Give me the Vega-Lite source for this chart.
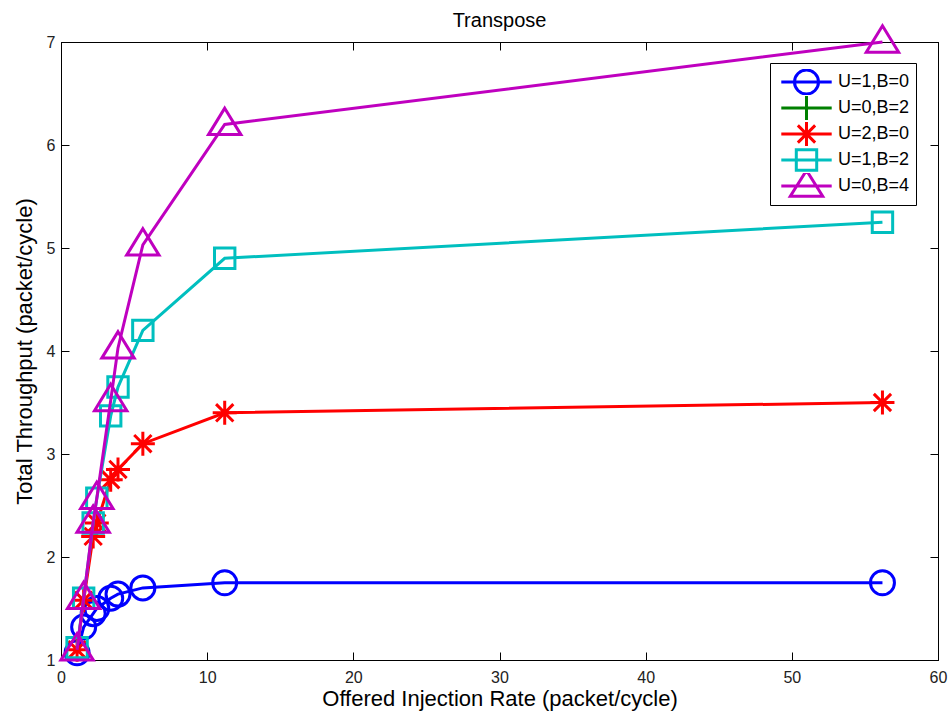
{
  "$schema": "https://vega.github.io/schema/vega-lite/v6.json",
  "width": 877,
  "height": 618,
  "autosize": {"type": "none"},
  "padding": {"left": 61, "top": 42, "right": 14, "bottom": 54},
  "background": "white",
  "title": {"text": "Transpose", "fontSize": 20, "font": "Liberation Sans", "fontWeight": "normal", "color": "black", "offset": -11},
  "data": {"values": [
    {"series": "U=1,B=0", "x": 1.1, "y": 1.07},
    {"series": "U=1,B=0", "x": 1.55, "y": 1.32},
    {"series": "U=1,B=0", "x": 2.2, "y": 1.45},
    {"series": "U=1,B=0", "x": 2.45, "y": 1.5},
    {"series": "U=1,B=0", "x": 3.4, "y": 1.6},
    {"series": "U=1,B=0", "x": 3.9, "y": 1.64},
    {"series": "U=1,B=0", "x": 5.6, "y": 1.7},
    {"series": "U=1,B=0", "x": 11.2, "y": 1.75},
    {"series": "U=1,B=0", "x": 56.2, "y": 1.75},
    {"series": "U=2,B=0", "x": 1.1, "y": 1.1},
    {"series": "U=2,B=0", "x": 1.55, "y": 1.58},
    {"series": "U=2,B=0", "x": 2.2, "y": 2.2},
    {"series": "U=2,B=0", "x": 2.45, "y": 2.33},
    {"series": "U=2,B=0", "x": 3.4, "y": 2.75},
    {"series": "U=2,B=0", "x": 3.9, "y": 2.85},
    {"series": "U=2,B=0", "x": 5.6, "y": 3.1},
    {"series": "U=2,B=0", "x": 11.2, "y": 3.4},
    {"series": "U=2,B=0", "x": 56.2, "y": 3.5},
    {"series": "U=1,B=2", "x": 1.1, "y": 1.12},
    {"series": "U=1,B=2", "x": 1.55, "y": 1.6},
    {"series": "U=1,B=2", "x": 2.2, "y": 2.33},
    {"series": "U=1,B=2", "x": 2.45, "y": 2.57},
    {"series": "U=1,B=2", "x": 3.4, "y": 3.37},
    {"series": "U=1,B=2", "x": 3.9, "y": 3.65},
    {"series": "U=1,B=2", "x": 5.6, "y": 4.2},
    {"series": "U=1,B=2", "x": 11.2, "y": 4.9},
    {"series": "U=1,B=2", "x": 56.2, "y": 5.25},
    {"series": "U=0,B=4", "x": 1.1, "y": 1.1},
    {"series": "U=0,B=4", "x": 1.55, "y": 1.6},
    {"series": "U=0,B=4", "x": 2.2, "y": 2.34},
    {"series": "U=0,B=4", "x": 2.45, "y": 2.57},
    {"series": "U=0,B=4", "x": 3.4, "y": 3.52},
    {"series": "U=0,B=4", "x": 3.9, "y": 4.03},
    {"series": "U=0,B=4", "x": 5.6, "y": 5.03},
    {"series": "U=0,B=4", "x": 11.2, "y": 6.2},
    {"series": "U=0,B=4", "x": 56.2, "y": 7.0}
  ]},
  "encoding": {
    "x": {"field": "x", "type": "quantitative", "scale": {"domain": [0, 60], "nice": false, "zero": false},
          "axis": {"orient": "bottom", "values": [0, 10, 20, 30, 40, 50, 60], "title": "Offered Injection Rate (packet/cycle)", "titlePadding": 3, "labelPadding": 17, "labelFlush": false, "labelFontSize": 16, "labelFont": "Liberation Sans", "labelColor": "#222222"}},
    "y": {"field": "y", "type": "quantitative", "scale": {"domain": [1, 7], "nice": false, "zero": false},
          "axis": {"orient": "left", "values": [1, 2, 3, 4, 5, 6, 7], "title": "Total Throughput (packet/cycle)", "titlePadding": 10, "labelPadding": 14, "labelFontSize": 16, "labelFont": "Liberation Sans", "labelColor": "#222222"}}
  },
  "layer": [
    {
      "resolve": {"scale": {"color": "independent", "shape": "independent"}},
      "layer": [
        {"transform": [{"filter": {"field": "series", "equal": "U=1,B=0"}}], "mark": {"type": "line", "strokeWidth": 3},
         "encoding": {"color": {"field": "series", "type": "nominal", "legend": null, "scale": {"domain": ["U=1,B=0", "U=0,B=2", "U=2,B=0", "U=1,B=2", "U=0,B=4"], "range": ["#0000ff", "#008000", "#ff0000", "#00bfbf", "#bf00bf"]}}}},
        {"transform": [{"filter": {"field": "series", "equal": "U=1,B=0"}}], "mark": {"type": "point", "filled": false, "strokeWidth": 3, "size": 576, "opacity": 1},
         "encoding": {"color": {"field": "series", "type": "nominal", "legend": null, "scale": {"domain": ["U=1,B=0", "U=0,B=2", "U=2,B=0", "U=1,B=2", "U=0,B=4"], "range": ["#0000ff", "#008000", "#ff0000", "#00bfbf", "#bf00bf"]}},
                      "shape": {"field": "series", "type": "nominal", "legend": null, "scale": {"domain": ["U=1,B=0", "U=0,B=2", "U=2,B=0", "U=1,B=2", "U=0,B=4"], "range": ["circle", "M-0.8,0L0.8,0M0,-0.8L0,0.8", "M-1,0L1,0M0,-1L0,1M-0.72,-0.72L0.72,0.72M-0.72,0.72L0.72,-0.72", "M-0.85,-0.85H0.85V0.85H-0.85Z", "M0,-1.35L1.35,0.85L-1.35,0.85Z"]}}}},
        {"transform": [{"filter": {"field": "series", "equal": "U=2,B=0"}}], "mark": {"type": "line", "strokeWidth": 3},
         "encoding": {"color": {"field": "series", "type": "nominal", "legend": null, "scale": {"domain": ["U=1,B=0", "U=0,B=2", "U=2,B=0", "U=1,B=2", "U=0,B=4"], "range": ["#0000ff", "#008000", "#ff0000", "#00bfbf", "#bf00bf"]}}}},
        {"transform": [{"filter": {"field": "series", "equal": "U=2,B=0"}}], "mark": {"type": "point", "filled": false, "strokeWidth": 3, "size": 576, "opacity": 1},
         "encoding": {"color": {"field": "series", "type": "nominal", "legend": null, "scale": {"domain": ["U=1,B=0", "U=0,B=2", "U=2,B=0", "U=1,B=2", "U=0,B=4"], "range": ["#0000ff", "#008000", "#ff0000", "#00bfbf", "#bf00bf"]}},
                      "shape": {"field": "series", "type": "nominal", "legend": null, "scale": {"domain": ["U=1,B=0", "U=0,B=2", "U=2,B=0", "U=1,B=2", "U=0,B=4"], "range": ["circle", "M-0.8,0L0.8,0M0,-0.8L0,0.8", "M-1,0L1,0M0,-1L0,1M-0.72,-0.72L0.72,0.72M-0.72,0.72L0.72,-0.72", "M-0.85,-0.85H0.85V0.85H-0.85Z", "M0,-1.35L1.35,0.85L-1.35,0.85Z"]}}}},
        {"transform": [{"filter": {"field": "series", "equal": "U=1,B=2"}}], "mark": {"type": "line", "strokeWidth": 3},
         "encoding": {"color": {"field": "series", "type": "nominal", "legend": null, "scale": {"domain": ["U=1,B=0", "U=0,B=2", "U=2,B=0", "U=1,B=2", "U=0,B=4"], "range": ["#0000ff", "#008000", "#ff0000", "#00bfbf", "#bf00bf"]}}}},
        {"transform": [{"filter": {"field": "series", "equal": "U=1,B=2"}}], "mark": {"type": "point", "filled": false, "strokeWidth": 3, "size": 576, "opacity": 1},
         "encoding": {"color": {"field": "series", "type": "nominal", "legend": null, "scale": {"domain": ["U=1,B=0", "U=0,B=2", "U=2,B=0", "U=1,B=2", "U=0,B=4"], "range": ["#0000ff", "#008000", "#ff0000", "#00bfbf", "#bf00bf"]}},
                      "shape": {"field": "series", "type": "nominal", "legend": null, "scale": {"domain": ["U=1,B=0", "U=0,B=2", "U=2,B=0", "U=1,B=2", "U=0,B=4"], "range": ["circle", "M-0.8,0L0.8,0M0,-0.8L0,0.8", "M-1,0L1,0M0,-1L0,1M-0.72,-0.72L0.72,0.72M-0.72,0.72L0.72,-0.72", "M-0.85,-0.85H0.85V0.85H-0.85Z", "M0,-1.35L1.35,0.85L-1.35,0.85Z"]}}}},
        {"transform": [{"filter": {"field": "series", "equal": "U=0,B=4"}}], "mark": {"type": "line", "strokeWidth": 3},
         "encoding": {"color": {"field": "series", "type": "nominal", "legend": null, "scale": {"domain": ["U=1,B=0", "U=0,B=2", "U=2,B=0", "U=1,B=2", "U=0,B=4"], "range": ["#0000ff", "#008000", "#ff0000", "#00bfbf", "#bf00bf"]}}}},
        {"transform": [{"filter": {"field": "series", "equal": "U=0,B=4"}}], "mark": {"type": "point", "filled": false, "strokeWidth": 3, "size": 576, "opacity": 1},
         "encoding": {"color": {"field": "series", "type": "nominal", "legend": null, "scale": {"domain": ["U=1,B=0", "U=0,B=2", "U=2,B=0", "U=1,B=2", "U=0,B=4"], "range": ["#0000ff", "#008000", "#ff0000", "#00bfbf", "#bf00bf"]}},
                      "shape": {"field": "series", "type": "nominal", "legend": null, "scale": {"domain": ["U=1,B=0", "U=0,B=2", "U=2,B=0", "U=1,B=2", "U=0,B=4"], "range": ["circle", "M-0.8,0L0.8,0M0,-0.8L0,0.8", "M-1,0L1,0M0,-1L0,1M-0.72,-0.72L0.72,0.72M-0.72,0.72L0.72,-0.72", "M-0.85,-0.85H0.85V0.85H-0.85Z", "M0,-1.35L1.35,0.85L-1.35,0.85Z"]}}}},
        {"transform": [{"filter": "datum.x < -100"}], "mark": {"type": "point", "filled": false, "strokeWidth": 3, "size": 576, "opacity": 1},
         "encoding": {"color": {"field": "series", "type": "nominal", "title": null, "scale": {"domain": ["U=1,B=0", "U=0,B=2", "U=2,B=0", "U=1,B=2", "U=0,B=4"], "range": ["#0000ff", "#008000", "#ff0000", "#00bfbf", "#bf00bf"]}},
                      "shape": {"field": "series", "type": "nominal", "title": null, "scale": {"domain": ["U=1,B=0", "U=0,B=2", "U=2,B=0", "U=1,B=2", "U=0,B=4"], "range": ["M-2.1,0L2.1,0M1,0A1,1,0,1,1,-1,0A1,1,0,1,1,1,0", "M-2.1,0L2.1,0M0,-1L0,1", "M-2.1,0L2.1,0M0,-1L0,1M-0.72,-0.72L0.72,0.72M-0.72,0.72L0.72,-0.72", "M-2.1,0L2.1,0M-0.85,-0.85H0.85V0.85H-0.85Z", "M-2.1,0L2.1,0M0,-1.3L1.35,0.85L-1.35,0.85Z"]}}}}
      ]
    },
    {
      "transform": [{"filter": "datum.x < -100"}],
      "mark": {"type": "point", "opacity": 0},
      "encoding": {
        "x": {"field": "x", "type": "quantitative", "scale": {"domain": [0, 60], "nice": false, "zero": false},
              "axis": {"orient": "top", "values": [0, 10, 20, 30, 40, 50, 60], "labels": false, "title": null}},
        "y": {"field": "y", "type": "quantitative", "scale": {"domain": [1, 7], "nice": false, "zero": false},
              "axis": {"orient": "right", "values": [1, 2, 3, 4, 5, 6, 7], "labels": false, "title": null}}
      }
    }
  ],
  "config": {
    "view": {"stroke": "black", "strokeWidth": 1},
    "axis": {"grid": false, "domainColor": "black", "domainWidth": 1, "tickColor": "black", "tickSize": -8, "tickWidth": 1,
             "labelColor": "black", "labelFont": "Liberation Sans", "labelFontSize": 16, "titleFont": "Liberation Sans", "titleFontSize": 22,
             "titleFontWeight": "normal", "titleColor": "black"},
    "legend": {"orient": "none", "legendX": 709, "legendY": 21, "padding": 6, "strokeColor": "black", "fillColor": "white",
               "symbolSize": 576, "symbolStrokeWidth": 3, "symbolOffset": 17, "labelOffset": 18, "rowPadding": 0, "clipHeight": 26,
               "labelFont": "Liberation Sans", "labelFontSize": 18, "labelColor": "black", "cornerRadius": 0}
  }
}
